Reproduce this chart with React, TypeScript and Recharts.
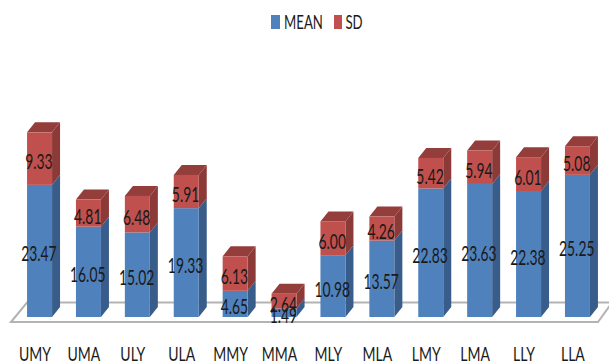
import { Bar, BarChart, LabelList, Legend, XAxis, YAxis } from "recharts";

const CATEGORIES = ["UMY", "UMA", "ULY", "ULA", "MMY", "MMA", "MLY", "MLA", "LMY", "LMA", "LLY", "LLA"];
const MEAN = [23.47, 16.05, 15.02, 19.33, 4.65, 1.49, 10.98, 13.57, 22.83, 23.63, 22.38, 25.25];
const SD = [9.33, 4.81, 6.48, 5.91, 6.13, 2.64, 6.0, 4.26, 5.42, 5.94, 6.01, 5.08];

const rows = CATEGORIES.map((name, i) => ({ name, mean: MEAN[i], sd: SD[i] }));

const BLUE = "#4f81bd";
const BLUE_SIDE = "#385d8a";
const RED = "#c0504d";
const RED_SIDE = "#8c3a38";
const RED_TOP = "#943e3b";
const INK = "#1a1a1a";

// extrusion of the fake 3D bars
const DX = 8;
const DY = 10;

// Lato squeezed horizontally stands in for the condensed chart font
function NarrowText({ x, y, size, children, fill = INK, sx = 0.66 }: any) {
  return (
    <text
      transform={`translate(${x} ${y}) scale(${sx} 1)`}
      textAnchor="middle"
      fontFamily="Lato"
      fontSize={size}
      fill={fill}
    >
      {children}
    </text>
  );
}

function Box3D({ x, y, width, height, fill, sideFill, topFill }: any) {
  const r = x + width;
  const b = y + height;
  return (
    <g>
      <polygon points={`${r},${y} ${r + DX},${y - DY} ${r + DX},${b - DY} ${r},${b}`} fill={sideFill} />
      {topFill && (
        <polygon points={`${x},${y} ${x + DX},${y - DY} ${r + DX},${y - DY} ${r},${y}`} fill={topFill} />
      )}
      <rect x={x} y={y} width={width} height={height} fill={fill} />
    </g>
  );
}

function ValueLabel({ x, y, width, height, value }: any) {
  return (
    <NarrowText x={x + width / 2 - 0.7} y={y + height / 2 + 3 + 7.5} size={21}>
      {Number(value).toFixed(2)}
    </NarrowText>
  );
}

function CategoryTick({ x, y, payload }: any) {
  return (
    <NarrowText x={x - 4.5} y={y + 15.5} size={20} sx={0.7}>
      {payload.value}
    </NarrowText>
  );
}

function LegendRow({ payload }: any) {
  return (
    <div style={{ display: "flex", height: 40, paddingLeft: 271 }}>
      {(payload || []).map((item: any, i: number) => (
        <div key={item.value} style={{ display: "flex" }}>
          <div style={{ width: 8.5, height: 13.5, marginTop: 15, background: item.color }} />
          <svg width={i === 0 ? 54 : 30} height={40} style={{ display: "block" }}>
            <NarrowText x={i === 0 ? 23.5 : 12} y={29} size={20}>
              {item.value}
            </NarrowText>
          </svg>
        </div>
      ))}
    </div>
  );
}

export default function App() {
  return (
    <div style={{ position: "absolute", left: 0, top: 0, background: "#fff" }}>
      <BarChart
        width={609}
        height={364}
        data={rows}
        margin={{ top: 51.8, right: 7.15, bottom: 0, left: 15.05 }}
        barSize={25}
      >
        {/* floor of the 3D plot */}
        <polygon
          points="11,322 27,302.5 612,302.5 598,322"
          fill="#fff"
          stroke="#b3b3b3"
          strokeWidth={2}
        />
        <YAxis hide domain={[0, 40]} />
        <XAxis
          dataKey="name"
          height={47}
          axisLine={false}
          tickLine={false}
          interval={0}
          tick={<CategoryTick />}
          tickMargin={22}
        />
        <Legend verticalAlign="top" align="left" content={<LegendRow />} wrapperStyle={{ left: 0, top: 0, width: 609 }} />
        <Bar
          dataKey="mean"
          name="MEAN"
          stackId="a"
          fill={BLUE}
          isAnimationActive={false}
          shape={(p: any) => <Box3D {...p} sideFill={BLUE_SIDE} />}
        >
          <LabelList dataKey="mean" content={<ValueLabel />} />
        </Bar>
        <Bar
          dataKey="sd"
          name="SD"
          stackId="a"
          fill={RED}
          isAnimationActive={false}
          shape={(p: any) => <Box3D {...p} sideFill={RED_SIDE} topFill={RED_TOP} />}
        >
          <LabelList dataKey="sd" content={<ValueLabel />} />
        </Bar>
      </BarChart>
    </div>
  );
}
